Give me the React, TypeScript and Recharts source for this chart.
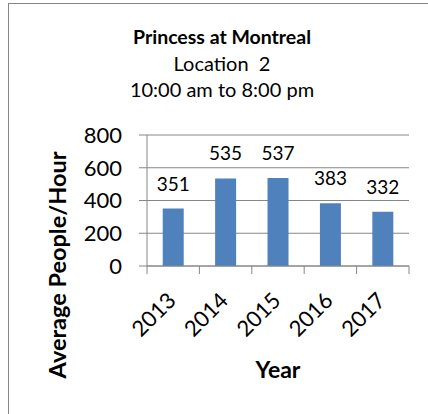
import { Bar, BarChart, CartesianGrid, LabelList, XAxis, YAxis } from 'recharts';

const years = ['2013', '2014', '2015', '2016', '2017'];
const people = [351, 535, 537, 383, 332];
const yTicks = [0, 200, 400, 600, 800];

const data = years.map((year, i) => ({ year, people: people[i] }));

const FONT = 'Lato, "Open Sans", sans-serif';
const AXIS = '#868686';

function YearTick(props: any) {
    const { x, y, payload, index } = props;
    const half = payload && payload.offset ? payload.offset : 26.2;
    const tx = x + 4;
    const ty = y + 36;
    return (
        <g>
            <line x1={x - half} y1={y} x2={x - half} y2={y + 8} stroke={AXIS} />
            {index === years.length - 1 && (
                <line x1={x + half} y1={y} x2={x + half} y2={y + 8} stroke={AXIS} />
            )}
            <text
                x={tx}
                y={ty}
                textAnchor="end"
                transform={`rotate(-45, ${tx}, ${ty})`}
                fontSize={22}
                fontFamily={FONT}
                fill="#000"
            >
                {payload.value}
            </text>
        </g>
    );
}

export default function App() {
    return (
        <div style={{ position: 'absolute', left: 0, top: 0, width: 428, height: 414, background: '#fff', overflow: 'hidden' }}>
            <div
                style={{
                    position: 'absolute',
                    left: 8,
                    top: 3,
                    width: 440,
                    height: 440,
                    border: '1.5px solid #868686',
                    boxSizing: 'border-box',
                }}
            />
            <div style={{ position: 'absolute', left: 0, top: 0 }}>
                <BarChart
                    width={428}
                    height={414}
                    data={data}
                    margin={{ top: 135, right: 19, left: 0, bottom: 0 }}
                    barCategoryGap="30%"
                >
                    <CartesianGrid vertical={false} stroke={AXIS} />
                    <XAxis
                        dataKey="year"
                        height={148}
                        tickLine={false}
                        tickSize={0}
                        tickMargin={0}
                        axisLine={{ stroke: AXIS }}
                        tick={<YearTick />}
                        interval={0}
                    />
                    <YAxis
                        width={147}
                        domain={[0, 800]}
                        ticks={yTicks}
                        tickSize={8}
                        tickMargin={17}
                        axisLine={{ stroke: AXIS }}
                        tickLine={{ stroke: AXIS }}
                        tick={{ fill: '#000', fontSize: 22, fontFamily: FONT }}
                    />
                    <Bar dataKey="people" fill="#4F81BD" isAnimationActive={false}>
                        <LabelList
                            dataKey="people"
                            position="top"
                            offset={18}
                            fill="#000"
                            fontSize={19}
                            fontFamily={FONT}
                        />
                    </Bar>
                </BarChart>
            </div>
            <svg width={428} height={414} style={{ position: 'absolute', left: 0, top: 0, pointerEvents: 'none' }}>
                <g fontFamily={FONT} fill="#000" textAnchor="middle">
                    <text x={222} y={44} fontSize={19.5} fontWeight="bold">Princess at Montreal</text>
                    <text x={222} y={71} fontSize={20} style={{ whiteSpace: 'pre' }}>Location  2</text>
                    <text x={222} y={97} fontSize={20}>10:00 am to 8:00 pm</text>
                    <text x={278} y={378} fontSize={23} fontWeight="bold">Year</text>
                    <text x={66} y={265} fontSize={23.5} fontWeight="bold" transform="rotate(-90, 66, 265)">
                        Average People/Hour
                    </text>
                </g>
            </svg>
        </div>
    );
}
